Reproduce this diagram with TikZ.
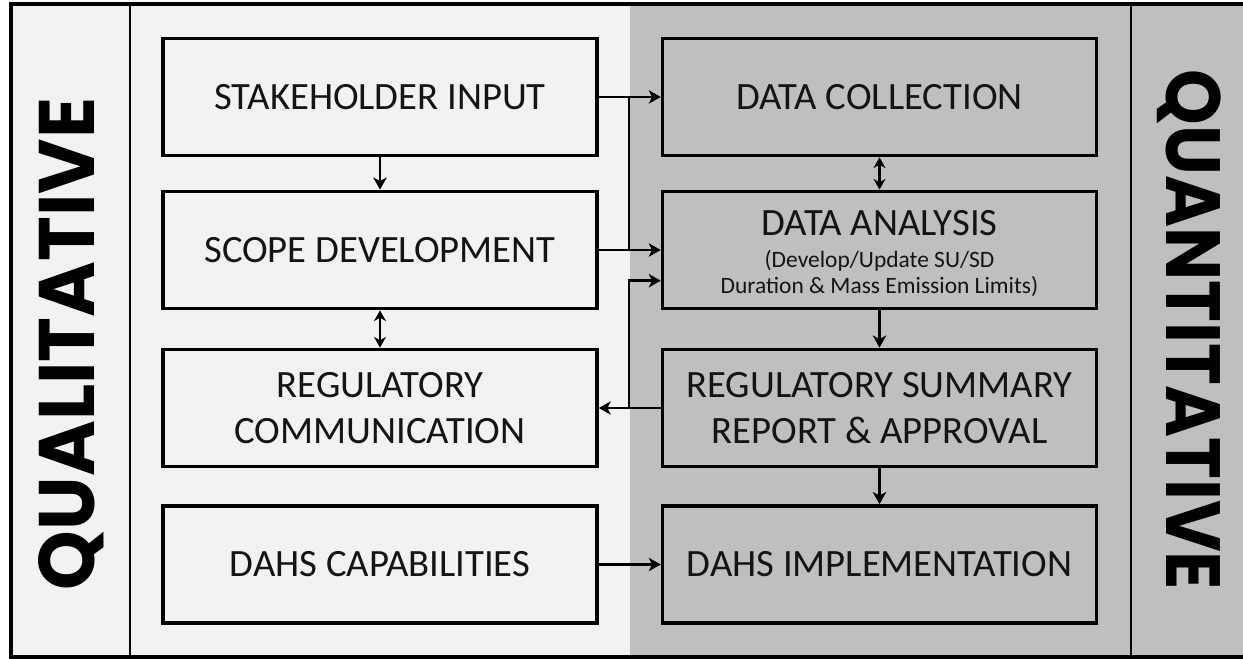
\documentclass[tikz,border=0pt]{standalone}
\usepackage{fontspec}
\setmainfont{Carlito}
\newfontfamily\labelfont{Poppins}
\usetikzlibrary{arrows.meta}
\definecolor{lightbg}{HTML}{F2F2F2}
\definecolor{darkbg}{HTML}{BFBFBF}
\begin{document}
\begin{tikzpicture}[x=0.75pt,y=-0.75pt,
  box/.style={draw=black, line width=2.6pt, minimum width=325.5pt, minimum height=88pt,
    inner sep=0pt, align=center, font=\fontsize{29}{34}\selectfont, text=black!92},
  lbox/.style={box, fill=lightbg},
  rbox/.style={box, fill=darkbg},
  boxtext/.style={inner sep=0pt, font=\fontsize{29}{34}\selectfont, text=black!92},
  subtext/.style={inner sep=0pt, font=\fontsize{17.6}{20}\selectfont, text=black!92},
  wire/.style={line width=2.2pt},
  conn/.style={wire, -{Stealth[length=9pt,width=10pt,inset=2.5pt]}},
  dconn/.style={wire, {Stealth[length=8pt,width=9pt,inset=2.5pt]}-{Stealth[length=8pt,width=9pt,inset=2.5pt]}},
  frame/.style={line width=2.4pt},
  divider/.style={line width=2pt},
  sidelabel/.style={inner sep=0pt, text=black}
]
\useasboundingbox (0,0) rectangle (1243,658);
% backgrounds
\fill[white] (0,0) rectangle (1243,658);
\fill[lightbg] (11,4) rectangle (630,657);
\fill[darkbg] (630,4) rectangle (1243,657);
\draw[frame] (1243,4) -- (11,4) -- (11,657) -- (1243,657);
\draw[divider] (130,4) -- (130,657);
\draw[divider] (1131,4) -- (1131,657);

% side labels
\node[sidelabel, rotate=90] (qual) at (71,344)
  {\resizebox{369pt}{42pt}{\labelfont\bfseries QUALITATIVE}};
\node[sidelabel, rotate=-90] (quant) at (1189,330)
  {\resizebox{390pt}{41pt}{\labelfont\bfseries QUANTITATIVE}};

% left boxes
\node[lbox] (stake) at (380,97) {STAKEHOLDER INPUT};
\node[lbox] (scope) at (380,250) {SCOPE DEVELOPMENT};
\node[lbox] (regcomm) at (380,408) {REGULATORY\\COMMUNICATION};
\node[lbox] (dahscap) at (380,564.5) {DAHS CAPABILITIES};

% right boxes
\node[rbox] (collect) at (879.5,97) {DATA COLLECTION};
\node[rbox] (analysis) at (879.5,250) {};
\node[boxtext, anchor=base] (analysistitle) at (879.5,235) {DATA ANALYSIS};
\node[subtext, anchor=base] (analysissub1) at (879.5,267) {(Develop/Update SU/SD};
\node[subtext, anchor=base] (analysissub2) at (879.5,293) {Duration \& Mass Emission Limits)};
\node[rbox] (summary) at (879.5,408) {REGULATORY SUMMARY\\REPORT \& APPROVAL};
\node[rbox] (dahsimpl) at (879.5,564.5) {DAHS IMPLEMENTATION};

% bus
\coordinate (busx) at (629,0);

% connectors
\draw[conn] (stake) -- (scope);
\draw[dconn] (scope) -- (regcomm);
\draw[dconn] (collect) -- (analysis);
\draw[conn] (analysis) -- (summary);
\draw[conn] (summary) -- (dahsimpl);
\draw[conn] (dahscap) -- (dahsimpl);

\draw[conn] (stake.east) -- (collect.west);
\draw[wire] (stake.east -| busx) -- (scope.east -| busx);
\draw[conn] (scope.east) -- (analysis.west);
\draw[conn] (summary.west) -- (regcomm.east);
\draw[conn] (summary.west -| busx) |- ([yshift=-23pt]analysis.west);
\end{tikzpicture}
\end{document}
